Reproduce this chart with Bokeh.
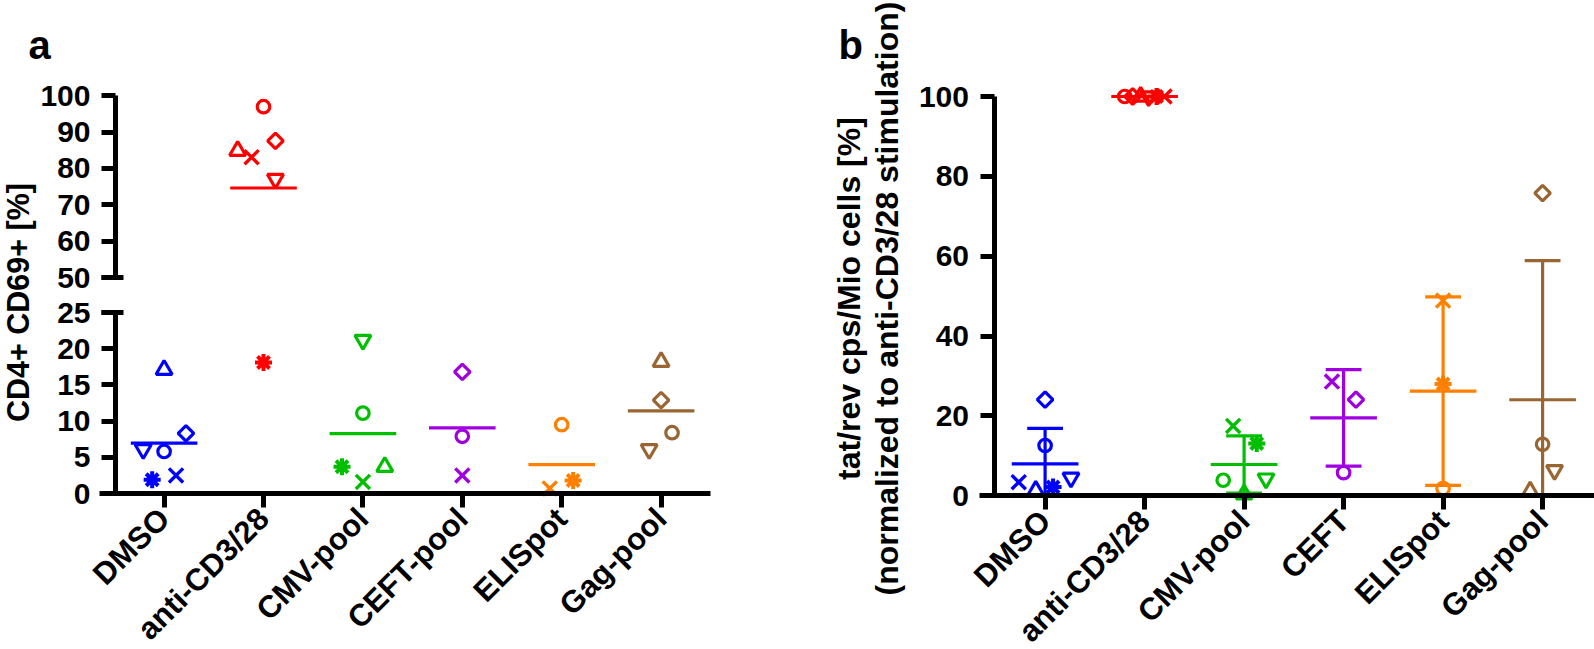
import math
from bokeh.plotting import figure
from bokeh.models import Range1d, LinearAxis, FixedTicker, Label, ColumnDataSource
from bokeh.layouts import row
from bokeh.embed import file_html
from bokeh.resources import INLINE

# ---------------- data ----------------
categories_a = ["DMSO", "anti-CD3/28", "CMV-pool", "CEFT-pool", "ELISpot", "Gag-pool"]
categories_b = ["DMSO", "anti-CD3/28", "CMV-pool", "CEFT", "ELISpot", "Gag-pool"]
cat_colors = ["#0000FF", "#FF0000", "#00BF00", "#A000E0", "#FF8000", "#996633"]
donors = ["circle", "diamond", "triangle", "inverted_triangle", "x", "asterisk"]

# panel a: CD4+ CD69+ [%]  (one value per category, None = no sample)
a_circle   = [5.8, 97.0, 11.1, 7.9, 9.5, 8.4]
a_diamond  = [8.3, 87.6, None, 16.8, None, 12.9]
a_triangle = [17.1, 84.9, 3.7, None, None, 18.2]
a_invtri   = [6.1, 77.1, 21.2, None, None, 6.1]
a_x        = [2.5, 83.1, 1.6, 2.5, 0.7, None]
a_asterisk = [1.9, 18.1, 3.7, None, 1.8, None]

# panel b: tat/rev cps/Mio cells [%] normalized to anti-CD3/28
b_circle   = [12.6, 100, 3.9, 5.8, 1.8, 12.9]
b_diamond  = [24.1, 100, None, 24.1, None, 75.8]
b_triangle = [1.3, 100, 0.4, None, None, 1.1]
b_invtri   = [4.5, 100, 4.3, None, None, 6.4]
b_x        = [3.4, 100, 17.5, 28.6, 48.9, None]
b_asterisk = [2.2, 100, 13.1, None, 28.0, None]

upper_ticks_a = [50, 60, 70, 80, 90, 100]
lower_ticks_a = [0, 5, 10, 15, 20, 25]
ticks_b = [0, 20, 40, 60, 80, 100]

vals_a = dict(zip(donors, [a_circle, a_diamond, a_triangle, a_invtri, a_x, a_asterisk]))
vals_b = dict(zip(donors, [b_circle, b_diamond, b_triangle, b_invtri, b_x, b_asterisk]))

# horizontal scatter offsets (category units) as in the original dot plot
jit_a = {
    "circle":            [0, 0, 0, 0, 0, 0.11],
    "diamond":           [0.22, 0.12, 0, 0, 0, 0],
    "triangle":          [0, -0.26, 0.22, 0, 0, 0],
    "inverted_triangle": [-0.21, 0.12, 0, 0, 0, -0.12],
    "x":                 [0.12, -0.12, 0, 0, -0.12, 0],
    "asterisk":          [-0.12, 0, -0.21, 0, 0.115, 0],
}
jit_b = {
    "circle":            [0, -0.2, -0.21, 0, 0, 0],
    "diamond":           [0, -0.12, 0, 0.124, 0, 0],
    "triangle":          [-0.094, -0.04, 0, 0, 0, -0.125],
    "inverted_triangle": [0.26, 0.04, 0.22, 0, 0, 0.12],
    "x":                 [-0.265, 0.2, -0.11, -0.117, 0, 0],
    "asterisk":          [0.08, 0.12, 0.127, 0, 0, 0],
}

marker_style = {
    "circle":            dict(marker="circle", size=12.5, angle=0.0, line_width=3.2),
    "diamond":           dict(marker="square", size=11, angle=math.pi / 4, line_width=3.2),
    "triangle":          dict(marker="triangle", size=16, angle=0.0, line_width=3.2),
    "inverted_triangle": dict(marker="inverted_triangle", size=16, angle=0.0, line_width=3.2),
    "x":                 dict(marker="x", size=20, angle=0.0, line_width=3.4),
    "asterisk":          dict(marker="asterisk", size=17, angle=0.0, line_width=4.0),
}

FONT = "Liberation Sans"
BREAK = 37.5

# ---------------- layout (page pixels; each frame fills its canvas) ----------------
H = 649
TOP, BOT = 0, H
# panel a
A_X0, A_W = 0, 790
A_AXL, A_AXR = 99, 710          # x-axis line extent
A_C0, A_DX = 163.6, 99.4        # first category centre, px per category
A_Y0, A_KLO = 493.0, 7.24       # lower segment: 0 at y=493, px per unit
A_Y100, A_KUP = 95.3, 3.634     # upper segment: 100 at y=95.3, px per unit
A_YAX = 115
# panel b
B_X0 = A_X0 + A_W
B_W = 804
B_AXL = 979
B_C0, B_DX = 1044.6, 99.5
B_Y0, B_K = 495.3, 3.993
B_YAX = 993.5


def mean(v):
    return sum(v) / len(v)


def sd(v):
    m = mean(v)
    return math.sqrt(sum((x - m) ** 2 for x in v) / (len(v) - 1)) if len(v) > 1 else 0.0


def style_axis(ax, font_size="30px"):
    ax.axis_line_width = 5
    ax.axis_line_color = "black"
    ax.major_tick_line_width = 5
    ax.major_tick_line_color = "black"
    ax.major_tick_in = 0
    ax.major_tick_out = 14
    ax.minor_tick_line_color = None
    ax.major_label_text_font = FONT
    ax.major_label_text_font_style = "bold"
    ax.major_label_text_font_size = font_size
    ax.major_label_text_color = "black"


def new_fig(width, xr, yr):
    p = figure(width=width, height=H, x_range=xr, y_range=yr, title=None,
               x_axis_location=None, y_axis_location=None,
               toolbar_location=None, output_backend="svg",
               min_border=0, min_border_left=0, min_border_right=0,
               min_border_top=0, min_border_bottom=0)
    p.outline_line_color = None
    p.background_fill_color = "white"
    p.border_fill_color = "white"
    p.grid.visible = False
    return p


def cat_axis(p, labels, bounds):
    xa = LinearAxis(ticker=FixedTicker(ticks=list(range(len(labels)))),
                    major_label_overrides={i: c for i, c in enumerate(labels)},
                    fixed_location=0, bounds=bounds)
    style_axis(xa, "31px")
    xa.major_label_orientation = math.pi / 4
    xa.major_label_standoff = 6
    p.add_layout(xa, "below")


def label(p, px, py, text, size, fx, fy, angle=0.0, align="center", baseline="middle"):
    p.add_layout(Label(x=fx(px), y=fy(py), text=text, angle=angle,
                       text_font=FONT, text_font_style="bold", text_font_size=size,
                       text_color="black", text_align=align, text_baseline=baseline))


# ================= panel a =================
ax_a = lambda px: (px - A_C0) / A_DX
ay_lo = lambda py: (A_Y0 - py) / A_KLO
ay_up = lambda py: 100 + (A_Y100 - py) / A_KUP

pa = new_fig(A_W, Range1d(ax_a(A_X0), ax_a(A_X0 + A_W)), Range1d(ay_lo(BOT), ay_lo(TOP)))
pa.extra_y_ranges = {"upper": Range1d(ay_up(BOT), ay_up(TOP))}

ya_lo = LinearAxis(ticker=FixedTicker(ticks=lower_ticks_a), bounds=(0, 25), fixed_location=ax_a(A_YAX))
ya_up = LinearAxis(y_range_name="upper", ticker=FixedTicker(ticks=upper_ticks_a), bounds=(50, 100),
                   fixed_location=ax_a(A_YAX))
for ax in (ya_lo, ya_up):
    style_axis(ax)
    ax.major_label_standoff = 11
    pa.add_layout(ax, "left")

# small inward stubs at the ends of the axis break
for rng, t in (("default", lower_ticks_a[-1]), ("upper", upper_ticks_a[0])):
    stub = LinearAxis(y_range_name=rng, ticker=FixedTicker(ticks=[t]), bounds=(t - 1, t + 1),
                      fixed_location=ax_a(A_YAX))
    style_axis(stub)
    stub.axis_line_color = None
    stub.major_tick_in = 8
    stub.major_label_text_alpha = 0
    pa.add_layout(stub, "left")

cat_axis(pa, categories_a, (ax_a(A_AXL), ax_a(A_AXR)))

# mean lines
for seg, rng in (("lo", "default"), ("up", "upper")):
    d = dict(x0=[], x1=[], y=[], color=[])
    for i in range(len(categories_a)):
        v = [vals_a[k][i] for k in donors if vals_a[k][i] is not None]
        m = mean(v)
        if (m >= BREAK) == (seg == "up"):
            d["x0"].append(i - 0.335); d["x1"].append(i + 0.335)
            d["y"].append(m); d["color"].append(cat_colors[i])
    if d["y"]:
        pa.segment(x0="x0", y0="y", x1="x1", y1="y", source=ColumnDataSource(d),
                   line_color="color", line_width=3.2, y_range_name=rng)

# points
for k in donors:
    for seg, rng in (("lo", "default"), ("up", "upper")):
        d = dict(x=[], y=[], color=[])
        for i, v in enumerate(vals_a[k]):
            if v is None or (v >= BREAK) != (seg == "up"):
                continue
            d["x"].append(i + jit_a[k][i]); d["y"].append(v); d["color"].append(cat_colors[i])
        if d["y"]:
            st = marker_style[k]
            pa.scatter(x="x", y="y", source=ColumnDataSource(d), marker=st["marker"], size=st["size"],
                       angle=st["angle"], fill_color=None, line_color="color",
                       line_width=st["line_width"], y_range_name=rng)

label(pa, 28, 44, "a", "40px", ax_a, ay_lo, align="left")
label(pa, 17, 302, "CD4+ CD69+ [%]", "30.5px", ax_a, ay_lo, angle=math.pi / 2)

# ================= panel b =================
bx = lambda px: (px - B_C0) / B_DX
by = lambda py: (B_Y0 - py) / B_K

pb = new_fig(B_W, Range1d(bx(B_X0), bx(B_X0 + B_W)), Range1d(by(BOT), by(TOP)))

yb = LinearAxis(ticker=FixedTicker(ticks=ticks_b), bounds=(0, 100), fixed_location=bx(B_YAX))
style_axis(yb)
yb.major_label_standoff = 11
pb.add_layout(yb, "left")
cat_axis(pb, categories_b, (bx(B_AXL), bx(B_X0 + B_W)))

# mean +/- SD
md = dict(x0=[], x1=[], y=[], color=[])
st_d = dict(x=[], lo=[], hi=[], color=[])
cap = dict(x0=[], x1=[], y=[], color=[])
for i in range(len(categories_b)):
    v = [vals_b[k][i] for k in donors if vals_b[k][i] is not None]
    m, s = mean(v), sd(v)
    lo, hi = max(0.0, m - s), m + s
    md["x0"].append(i - 0.335); md["x1"].append(i + 0.335); md["y"].append(m); md["color"].append(cat_colors[i])
    st_d["x"].append(i); st_d["lo"].append(lo); st_d["hi"].append(hi); st_d["color"].append(cat_colors[i])
    for yv in (lo, hi):
        cap["x0"].append(i - 0.18); cap["x1"].append(i + 0.18); cap["y"].append(yv); cap["color"].append(cat_colors[i])

pb.segment(x0="x", y0="lo", x1="x", y1="hi", source=ColumnDataSource(st_d), line_color="color", line_width=3.2)
pb.segment(x0="x0", y0="y", x1="x1", y1="y", source=ColumnDataSource(cap), line_color="color", line_width=3.2)
pb.segment(x0="x0", y0="y", x1="x1", y1="y", source=ColumnDataSource(md), line_color="color", line_width=3.2)

for k in donors:
    d = dict(x=[], y=[], color=[])
    for i, v in enumerate(vals_b[k]):
        if v is None:
            continue
        d["x"].append(i + jit_b[k][i]); d["y"].append(v); d["color"].append(cat_colors[i])
    st = marker_style[k]
    pb.scatter(x="x", y="y", source=ColumnDataSource(d), marker=st["marker"], size=st["size"],
               angle=st["angle"], fill_color=None, line_color="color", line_width=st["line_width"])

label(pb, 838, 44, "b", "40px", bx, by, align="left")
label(pb, 848, 298, "tat/rev cps/Mio cells [%]", "32px", bx, by, angle=math.pi / 2)
label(pb, 886, 298, "(normalized to anti-CD3/28 stimulation)", "32px", bx, by, angle=math.pi / 2)

layout = row(pa, pb)
open("out.html", "w").write(file_html(layout, INLINE))
